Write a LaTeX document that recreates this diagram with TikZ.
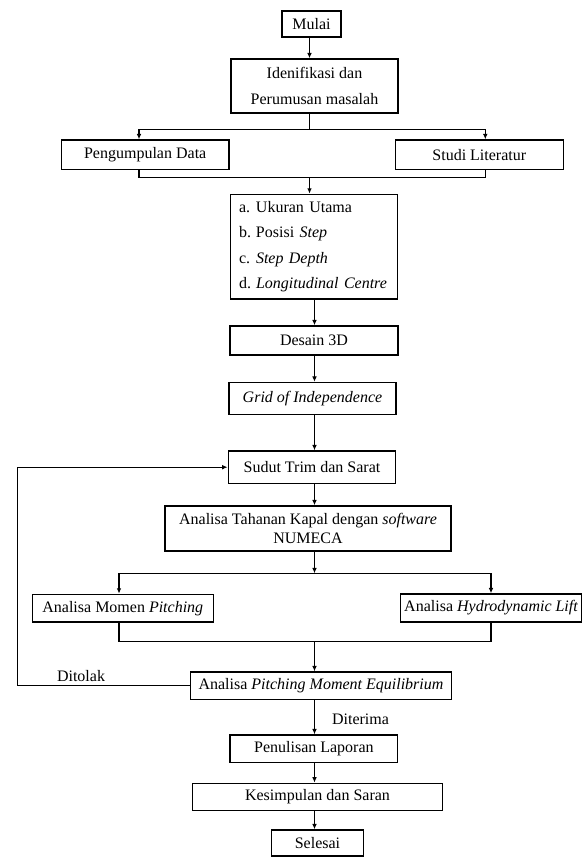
\documentclass[tikz,border=0pt]{standalone}
\usepackage{fontspec}
\setmainfont{Liberation Serif}
\usetikzlibrary{arrows.meta}
\begin{document}
\begin{tikzpicture}[x=0.75pt,y=-0.75pt,
  box/.style 2 args={draw, line width=1.1pt, inner sep=0pt,
    minimum width=#1*0.75pt, minimum height=#2*0.75pt,
    font=\fontsize{12}{14}\selectfont, align=center},
  conn/.style={line width=0.9pt},
  arr/.style={conn, -{Latex[length=4pt,width=3.5pt]}},
  lbl/.style={font=\fontsize{12}{14}\selectfont, inner sep=0pt}]
\useasboundingbox (0,0) rectangle (586,857);

% columns and levels
\coordinate (colA) at (309.5,0);
\coordinate (colB) at (314.5,0);
\coordinate (pL) at (139,0);
\coordinate (pR) at (485.3,0);
\coordinate (mL) at (119,0);
\coordinate (mR) at (491,0);
\coordinate (fb) at (17.3,0);
\coordinate (s1) at (0,129.3);
\coordinate (m1) at (0,177.7);
\coordinate (s2) at (0,573.3);
\coordinate (m2) at (0,641.3);

% nodes
\node[box={59}{26}] (mulai) at (311.5,24) {Mulai};
\node[box={167}{54}, font=\fontsize{12}{19.3}\selectfont] (iden) at (314.5,86)
  {Idenifikasi dan\\Perumusan masalah};
\node[box={167.7}{29.3}] (peng) at (145.2,154.7) {Pengumpulan Data};
\node[box={168}{29.3}] (studi) at (479.3,154.7) {Studi Literatur};
\node[box={167.4}{104.7}, align=left, text width=112.5pt,
  font=\fontsize{12}{19}\selectfont] (list) at (314,246.7)
  {\makebox[12.75pt][l]{a.}Ukuran Utama\\
   \makebox[12.75pt][l]{b.}Posisi \textit{Step}\\
   \makebox[12.75pt][l]{c.}\textit{Step Depth}\\
   \makebox[12.75pt][l]{d.}\textit{Longitudinal Centre}};
\node[box={168}{29}] (desain) at (314,340.5) {Desain 3D};
\node[box={167}{32}] (grid) at (312.5,398.5) {\textit{Grid of Independence}};
\node[box={167.4}{32.3}] (sudut) at (312,467.2) {Sudut Trim dan Sarat};
\node[box={286}{45}, font=\fontsize{12}{13.8}\selectfont] (tahanan) at (308,528.5)
  {Analisa Tahanan Kapal dengan \textit{software}\\NUMECA};
\node[box={181}{27.7}] (momen) at (122.8,608.2) {Analisa Momen \textit{Pitching}};
\node[box={181}{28}] (hydro) at (491.2,608) {Analisa \textit{Hydrodynamic Lift}};
\node[box={260.6}{27.3}] (pme) at (321,685.7) {Analisa \textit{Pitching Moment Equilibrium}};
\node[box={167.7}{27.3}] (penulisan) at (313.9,748.7) {Penulisan Laporan};
\node[box={250.4}{27.4}] (kesimpulan) at (317.5,797) {Kesimpulan dan Saran};
\node[box={91.6}{26}] (selesai) at (317.5,843) {Selesai};

\node[lbl] (ditolak) at (81,676) {Ditolak};
\node[lbl] (diterima) at (360.5,719) {Diterima};

% connectors
\draw[arr] (mulai.south -| colA) -- (iden.north -| colA);
\draw[conn] (iden.south -| colA) -- (colA |- s1);
\draw[conn] (pL |- s1) -- (pR |- s1);
\draw[arr] (pL |- s1) -- (peng.north -| pL);
\draw[arr] (pR |- s1) -- (studi.north -| pR);
\draw[conn] (peng.south -| pL) -- (pL |- m1) -- (pR |- m1) -- (studi.south -| pR);
\draw[arr] (colA |- m1) -- (list.north -| colA);
\draw[arr] (list.south -| colB) -- (desain.north -| colB);
\draw[arr] (desain.south -| colB) -- (grid.north -| colB);
\draw[arr] (grid.south -| colB) -- (sudut.north -| colB);
\draw[arr] (sudut.south -| colB) -- (tahanan.north -| colB);
\draw[arr] (tahanan.south -| colB) -- (colB |- s2);
\draw[conn] (mL |- s2) -- (mR |- s2);
\draw[arr] (mL |- s2) -- (momen.north -| mL);
\draw[arr] (mR |- s2) -- (hydro.north -| mR);
\draw[conn] (momen.south -| mL) -- (mL |- m2) -- (mR |- m2) -- (hydro.south -| mR);
\draw[arr] (colB |- m2) -- (pme.north -| colB);
\draw[arr] (pme.west) -- (pme.west -| fb) |- (sudut.west);
\draw[arr] (pme.south -| colB) -- (penulisan.north -| colB);
\draw[arr] (penulisan.south -| colB) -- (kesimpulan.north -| colB);
\draw[arr] (kesimpulan.south -| colB) -- (selesai.north -| colB);
\end{tikzpicture}
\end{document}
